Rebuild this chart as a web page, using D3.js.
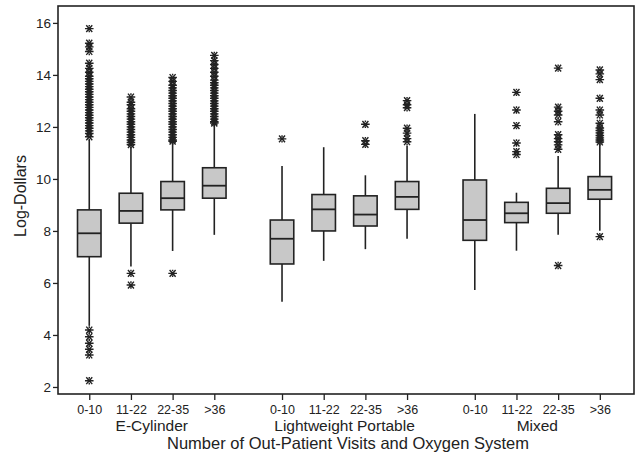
<!DOCTYPE html>
<html><head><meta charset="utf-8">
<script src="https://cdn.jsdelivr.net/npm/d3@7"></script>
<style>
html,body{margin:0;padding:0;background:#fff;}
svg{display:block;font-family:"Liberation Sans",Arial,sans-serif;}
</style></head>
<body>
<svg id="chart" width="637" height="455"></svg>
<script>
const groups = ["E-Cylinder", "Lightweight Portable", "Mixed"];
const visits = ["0-10", "11-22", "22-35", ">36"];
const yTicks = [2, 4, 6, 8, 10, 12, 14, 16];

// order: EC 0-10, 11-22, 22-35, >36, LP ..., Mixed ...
const whiskerLow  = [4.35, 6.63, 7.23, 7.85, 5.28, 6.85, 7.30, 7.70, 5.73, 7.24, 7.85, 8.01];
const q1          = [7.01, 8.30, 8.81, 9.26, 6.73, 8.00, 8.19, 8.83, 7.64, 8.32, 8.68, 9.22];
const median      = [7.91, 8.77, 9.26, 9.74, 7.70, 8.83, 8.63, 9.31, 8.42, 8.68, 9.07, 9.58];
const q3          = [8.81, 9.45, 9.90, 10.43, 8.42, 9.40, 9.35, 9.90, 9.96, 9.10, 9.64, 10.09];
const whiskerHigh = [11.50, 11.24, 11.38, 12.08, 10.50, 11.22, 10.14, 11.28, 12.50, 9.47, 10.88, 11.37];

const outliers = [
  [15.78, 15.22, 15.08, 14.90, 14.45, 14.25, 14.10, 13.95, 13.85, 13.75, 13.65, 13.55, 13.45, 13.35, 13.25,
   13.15, 13.05, 12.95, 12.85, 12.75, 12.65, 12.55, 12.45, 12.35, 12.25, 12.15, 12.05, 11.95, 11.85, 11.75, 11.62,
   4.19, 3.93, 3.68, 3.45, 3.23, 2.24],
  [13.15, 12.95, 12.85, 12.70, 12.60, 12.50, 12.40, 12.30, 12.20, 12.10, 12.00, 11.90, 11.80, 11.70, 11.60,
   11.50, 11.40, 11.32, 6.37, 5.92],
  [13.90, 13.75, 13.60, 13.50, 13.40, 13.30, 13.20, 13.10, 13.00, 12.90, 12.80, 12.70, 12.60, 12.50, 12.40,
   12.30, 12.20, 12.10, 12.00, 11.90, 11.80, 11.70, 11.60, 11.50, 11.45, 6.37],
  [14.75, 14.55, 14.40, 14.25, 14.10, 13.95, 13.80, 13.70, 13.60, 13.50, 13.40, 13.30, 13.20, 13.10, 13.00,
   12.90, 12.80, 12.70, 12.60, 12.50, 12.40, 12.30, 12.20, 12.15],
  [11.54],
  [],
  [12.10, 11.47, 11.33],
  [13.01, 12.85, 12.74, 11.95, 11.76, 11.55, 11.43],
  [],
  [13.33, 12.65, 12.05, 11.38, 11.05, 10.94],
  [14.26, 12.76, 12.60, 12.46, 12.20, 11.70, 11.55, 11.43, 11.31, 11.14, 6.67],
  [14.19, 14.04, 13.82, 13.10, 12.65, 12.46, 12.14, 11.96, 11.86, 11.77, 11.67, 11.58, 11.50, 11.42, 7.78]
];

const W = 637, H = 455;
const frame = {left: 58, right: 634, top: 6, bottom: 394};
const groupSlots = 4.625;

const svg = d3.select("#chart");

const boxes = [];
groups.forEach((g, gi) => visits.forEach((v, vi) => {
  const k = gi * visits.length + vi;
  boxes.push({group: g, visit: v, slot: gi * groupSlots + vi,
    lo: whiskerLow[k], q1: q1[k], med: median[k], q3: q3[k], hi: whiskerHigh[k], out: outliers[k]});
}));

const x = d3.scaleLinear().domain([-0.75, 13.07]).range([frame.left, frame.right]);
const y = d3.scaleLinear().domain([1.73, 16.65]).range([frame.bottom, frame.top]);

const ink = "#222";
const boxW = 23.5;

// axes
const yAxis = svg.append("g").attr("transform", `translate(${frame.left},0)`)
  .call(d3.axisLeft(y).tickValues(yTicks).tickSize(5).tickPadding(2).tickFormat(d3.format("d")));
yAxis.select(".domain").remove();
yAxis.selectAll(".tick line").attr("stroke", ink).attr("stroke-width", 1.3);
yAxis.selectAll(".tick text").attr("fill", ink).attr("font-size", 13.5)
  .attr("font-family", '"Liberation Sans", Arial, sans-serif');

const xAxis = svg.append("g").attr("transform", `translate(0,${frame.bottom})`)
  .call(d3.axisBottom(x).tickValues(boxes.map(b => b.slot)).tickSize(6).tickPadding(5)
    .tickFormat((d, i) => boxes[i].visit));
xAxis.select(".domain").remove();
xAxis.selectAll(".tick line").attr("stroke", ink).attr("stroke-width", 1.3);
xAxis.selectAll(".tick text").attr("fill", ink).attr("font-size", 12.5)
  .attr("font-family", '"Liberation Sans", Arial, sans-serif');

// frame
svg.append("rect").attr("x", frame.left).attr("y", frame.top)
  .attr("width", frame.right - frame.left).attr("height", frame.bottom - frame.top)
  .attr("fill", "none").attr("stroke", ink).attr("stroke-width", 1.6);

// boxes
const bg = svg.append("g").selectAll("g").data(boxes).join("g")
  .attr("transform", d => `translate(${x(d.slot)},0)`);

bg.append("line").attr("x1", 0).attr("x2", 0)
  .attr("y1", d => y(d.hi)).attr("y2", d => y(d.q3))
  .attr("stroke", ink).attr("stroke-width", 1.6);
bg.append("line").attr("x1", 0).attr("x2", 0)
  .attr("y1", d => y(d.q1)).attr("y2", d => y(d.lo))
  .attr("stroke", ink).attr("stroke-width", 1.6);
bg.append("rect").attr("x", -boxW / 2).attr("width", boxW)
  .attr("y", d => y(d.q3)).attr("height", d => y(d.q1) - y(d.q3))
  .attr("fill", "#c8c8c8").attr("stroke", ink).attr("stroke-width", 1.6);
bg.append("line").attr("x1", -boxW / 2).attr("x2", boxW / 2)
  .attr("y1", d => y(d.med)).attr("y2", d => y(d.med))
  .attr("stroke", ink).attr("stroke-width", 1.8);

// outlier asterisks
const star = "M-4.3,0H4.3M-3,-3.4L3,3.4M-3,3.4L3,-3.4M0,-3.7V-2M0,3.7V2";
bg.selectAll("path.out").data(d => d.out).join("path").attr("class", "out")
  .attr("transform", v => `translate(0,${y(v)})`)
  .attr("d", star).attr("fill", "none").attr("stroke", ink).attr("stroke-width", 1.4);

// group labels
svg.append("g").selectAll("text").data(groups).join("text")
  .attr("x", (g, gi) => x(gi * groupSlots + 1.5)).attr("y", 431)
  .attr("text-anchor", "middle").attr("font-size", 15.5).attr("fill", ink).text(g => g);

// axis titles
svg.append("text").attr("x", 348).attr("y", 449).attr("text-anchor", "middle")
  .attr("font-size", 16.5).attr("fill", ink)
  .text("Number of Out-Patient Visits and Oxygen System");
svg.append("text").attr("transform", "translate(26,196) rotate(-90)")
  .attr("text-anchor", "middle").attr("font-size", 16).attr("fill", ink).text("Log-Dollars");
</script>
</body></html>
